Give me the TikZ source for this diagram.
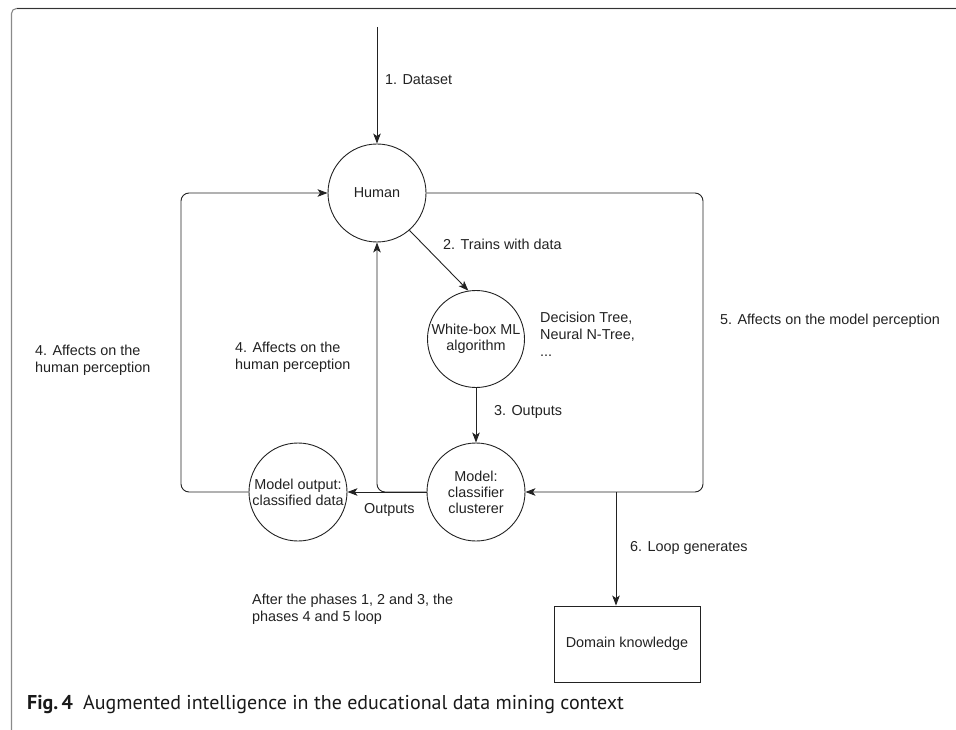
\documentclass[tikz,border=0pt]{standalone}
\usepackage{fontspec}
\setmainfont{Liberation Sans}
\newfontfamily\capfont{PT Sans}
\usetikzlibrary{arrows.meta}
\definecolor{ink}{HTML}{222222}
\definecolor{framegray}{HTML}{8A8A8A}
\begin{document}
\begin{tikzpicture}[x=1pt,y=-1pt,
  lbl/.style={font=\fontsize{14.4}{16.8}\selectfont, text=ink, inner sep=0pt, align=left, anchor=west},
  circ/.style={draw=ink, line width=0.9pt, circle, minimum size=98pt, inner sep=0pt,
    font=\fontsize{14.4}{16}\selectfont, align=center, text=ink},
  boxn/.style={draw=ink, line width=0.9pt, rectangle, minimum width=146pt, minimum height=76pt,
    inner sep=0pt, font=\fontsize{14.4}{16.8}\selectfont, text=ink},
  conn/.style={draw=ink, line width=0.9pt},
  arr/.style={conn, -{Stealth[length=10pt,width=7.5pt,inset=2.5pt]}},
]
\useasboundingbox (0,0) rectangle (956,730);
% frame
\draw[framegray, line width=1.1pt, rounded corners=5pt] (11.5,730) -- (11.5,8.5) -- (956,8.5);
\draw[black!80, line width=1.4pt] (17,8.5) -- (956,8.5);

% nodes
\node[circ] (human) at (377,193) {Human};
\node[circ, minimum size=97pt] (wb) at (476,339) {White-box ML\\algorithm};
\node[circ] (model) at (476,492) {Model:\\classifier\\clusterer};
\node[circ] (mout) at (298,492) {Model output:\\classified data};
\node[boxn] (dom) at (627,644) {Domain knowledge};

% coordinates
\coordinate (dstart) at (377,27);
\coordinate (lb) at (181,492);
\coordinate (lt) at (181,193);
\coordinate (rt) at (703,193);
\coordinate (rb) at (703,492);
\coordinate (split) at (616,492);

% connectors
\draw[arr] (dstart) -- (human.north);
\draw[arr] (human.-49) -- (wb.99);
\draw[arr] (wb.south) -- (model.north);
\draw[arr] (model.west) -- (mout.east);
\draw[arr, rounded corners=8pt] (model.west) -| (human.south);
\draw[arr, rounded corners=8pt] (mout.west) -- (lb) -- (lt) -- (human.west);
\draw[arr, rounded corners=8pt] (human.east) -- (rt) -- (rb) -- (model.east);
\draw[arr] (split) -- (split |- dom.north);

% labels
\node[lbl] (l1) at (385,80) {1. Dataset};
\node[lbl] (l2) at (443,244) {2. Trains with data};
\node[lbl] (ldt) at (540,334) {Decision Tree,\\Neural N-Tree,\\...};
\node[lbl] (l5) at (720,321) {5. Affects on the model perception};
\node[lbl] (l4a) at (35,360) {4. Affects on the\\human perception};
\node[lbl] (l4b) at (235,357) {4. Affects on the\\human perception};
\node[lbl] (l3) at (494,412) {3. Outputs};
\node[lbl] (lout) at (364,510) {Outputs};
\node[lbl] (l6) at (630,548) {6. Loop generates};
\node[lbl] (lafter) at (252,609) {After the phases 1, 2 and 3, the\\phases 4 and 5 loop};

% caption
\node[anchor=west, inner sep=0pt, text=black!90, font=\capfont\fontsize{20}{24}\selectfont] (cap) at (27,705)
  {\textbf{Fig.\,4}\hspace{0.5em}Augmented intelligence in the educational data mining context};
\end{tikzpicture}
\end{document}
